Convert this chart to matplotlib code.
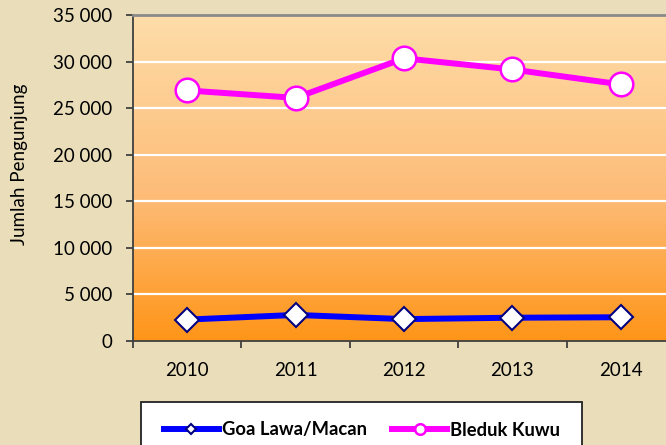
import numpy as np
import matplotlib
matplotlib.use("Agg")
import matplotlib.pyplot as plt
from matplotlib.colors import LinearSegmentedColormap
from matplotlib.patches import Rectangle

years = ["2010", "2011", "2012", "2013", "2014"]
goa_lawa = [2300, 2800, 2350, 2500, 2550]
bleduk_kuwu = [26900, 26100, 30350, 29150, 27550]
yticks = [0, 5000, 10000, 15000, 20000, 25000, 30000, 35000]
ytick_labels = ["0", "5 000", "10 000", "15 000", "20 000", "25 000", "30 000", "35 000"]

plt.rcParams['font.family'] = ['Lato', 'DejaVu Sans']

fig = plt.figure(figsize=(6.66, 4.45), dpi=100)
fig.patch.set_facecolor("#E9DDBA")

ax = fig.add_axes([133/666, 1 - 341/445, 542/666, 326/445])

# orange gradient plot area
cmap = LinearSegmentedColormap.from_list(
    "bg", [(0.0, "#FF9518"), (0.45, "#FDBC78"), (1.0, "#FEDDA9")])
grad = np.linspace(0, 1, 256).reshape(-1, 1)
ax.imshow(grad, extent=[0, 1, 0, 1], transform=ax.transAxes, origin="lower",
          aspect="auto", cmap=cmap, zorder=0, interpolation="bicubic")

x = np.arange(len(years))
for y in yticks[1:-1]:
    ax.axhline(y, color="white", lw=1.6, zorder=1)

ax.plot(x, goa_lawa, color="#0000FF", lw=4.3, marker="D", ms=12,
        mfc="white", mec="#000080", mew=1.5, zorder=3, label="Goa Lawa/Macan")
ax.plot(x, bleduk_kuwu, color="#FF00FF", lw=4.3, marker="o", ms=17,
        mfc="white", mec="#FF00FF", mew=1.8, zorder=3, label="Bleduk Kuwu")

ax.set_xlim(-0.5, len(years) - 0.5)
ax.set_ylim(0, 35000)

ax.set_yticks(yticks)
ax.set_yticklabels(ytick_labels)
ax.set_xticks(np.arange(len(years) + 1) - 0.5)
ax.set_xticklabels([])
ax.set_xticks(x, minor=True)
ax.set_xticklabels(years, minor=True)
ax.tick_params(axis="x", which="minor", length=0, pad=15, labelsize=13.5)
ax.tick_params(axis="x", which="major", length=5, width=1.2, color="#333333")
ax.tick_params(axis="y", length=5, width=1.2, color="#333333", pad=10, labelsize=13.5)

for s in ["left", "bottom"]:
    ax.spines[s].set_color("#404040")
    ax.spines[s].set_linewidth(1.3)
ax.spines["top"].set_color("#8A8A8A")
ax.spines["top"].set_linewidth(2)
ax.spines["right"].set_visible(False)

fig.text(20/666, 1 - 164/445, "Jumlah Pengunjung", rotation=90,
         ha="center", va="center", fontsize=13.5)

# legend box (runs off the bottom edge)
fig.patches.append(Rectangle((141/666, 1 - 462/445), 441/666, 60/445,
                             transform=fig.transFigure, facecolor="white",
                             edgecolor="#222222", lw=1.3, zorder=1))
leg = fig.legend(loc="center", bbox_to_anchor=(362/666, 1 - 430/445),
                 ncol=2, frameon=False, handlelength=3.0, handletextpad=0.15,
                 columnspacing=1.4, markerscale=0.45,
                 prop={"weight": "bold", "size": 13.2})
leg.set_zorder(5)

fig.savefig("out.png", dpi=100, facecolor=fig.get_facecolor())
